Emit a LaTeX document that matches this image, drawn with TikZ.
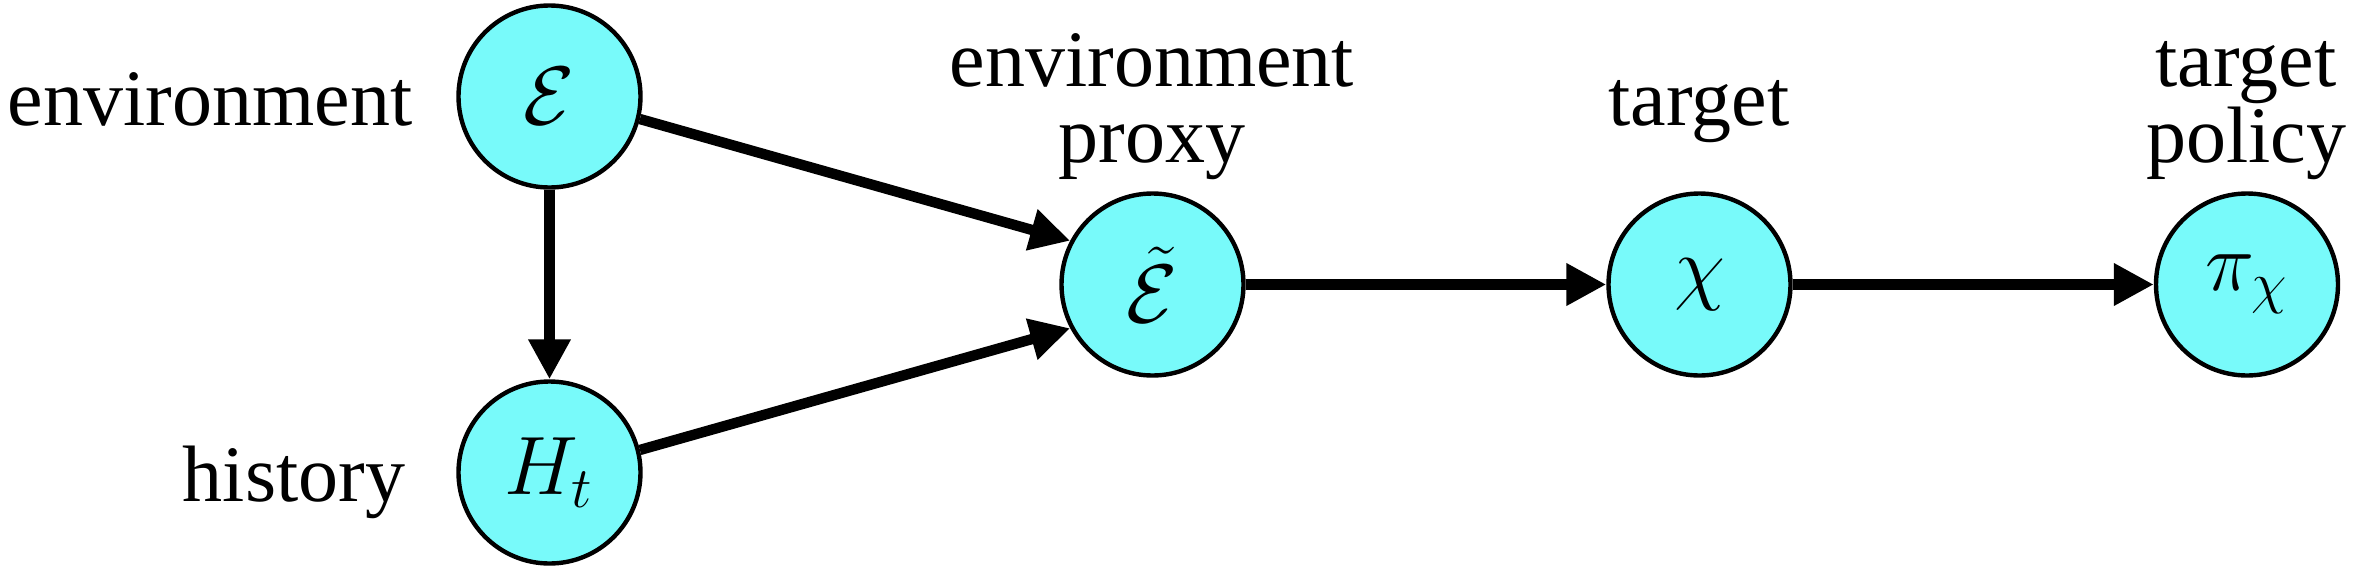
\documentclass[tikz,border=0pt]{standalone}
\usepackage{fontspec}
\setmainfont{Liberation Serif}
\usetikzlibrary{arrows.meta}
\definecolor{nodefill}{RGB}{120,250,250}
\begin{document}
\begin{tikzpicture}[x=0.25pt,y=-0.25pt,
  var/.style={circle,draw=black,line width=1.1pt,fill=nodefill,minimum size=45.5pt,inner sep=0pt,font=\fontsize{20}{19}\selectfont},
  lab/.style={inner sep=0pt,font=\fontsize{20}{19}\selectfont,align=center},
  conn/.style={line width=2.6pt,-{Triangle[length=10pt,width=10pt]}}]
\useasboundingbox (0,0) rectangle (2358,568);
\node[var] (E) at (549.5,96.5) {$\mathcal{E}$};
\node[var] (H) at (549.5,472.5) {$H_t$};
\node[var] (Et) at (1152.5,284.5) {$\tilde{\mathcal{E}}$};
\node[var] (X) at (1699.5,284.5) {$\chi$};
\node[var] (P) at (2247,284.5) {$\pi_\chi$};
\node[lab,anchor=base east] (lE) at (413,125) {environment};
\node[lab,anchor=base east] (lH) at (406,501) {history};
\node[lab,anchor=base] (lEt) at (1152,162) {environment\\proxy};
\node[lab,anchor=base] (lX) at (1699,125) {target};
\node[lab,anchor=base] (lP) at (2246,162) {target\\policy};
\draw[conn] (E.south) -- (H.north);
\draw[conn] (E.-14) -- (Et.152);
\draw[conn] (H.14) -- (Et.208);
\draw[conn] (Et.east) -- (X.west);
\draw[conn] (X.east) -- (P.west);
\end{tikzpicture}
\end{document}
